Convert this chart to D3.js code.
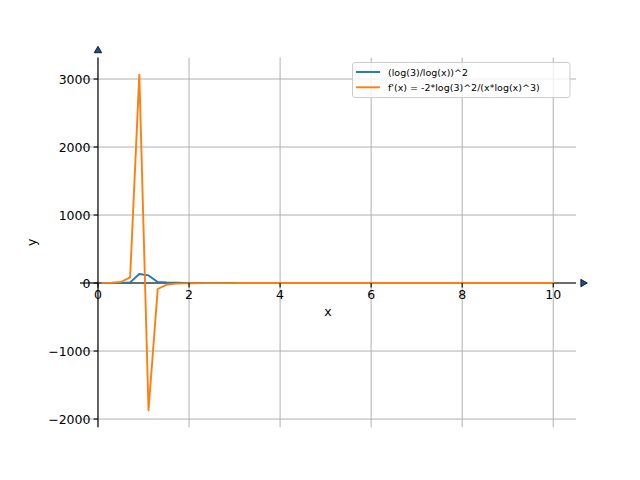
<!DOCTYPE html>
<html>
<head>
<meta charset="utf-8">
<script src="https://cdn.jsdelivr.net/npm/d3@7"></script>
<style>
  html, body { margin: 0; padding: 0; background: #fff; }
  svg { display: block; }
  text { font-family: "DejaVu Sans", sans-serif; fill: #000; }
</style>
</head>
<body>
<svg id="chart" width="640" height="480"></svg>
<script>
// ---- data ----
const xValues = [0.100,0.302,0.504,0.706,0.908,1.110,1.312,1.514,1.716,1.918,
  2.120,2.322,2.525,2.727,2.929,3.131,3.333,3.535,3.737,3.939,
  4.141,4.343,4.545,4.747,4.949,5.151,5.353,5.555,5.757,5.959,
  6.161,6.363,6.565,6.767,6.969,7.171,7.373,7.575,7.778,7.980,
  8.182,8.384,8.586,8.788,8.990,9.192,9.394,9.596,9.798,10.000];
const fValues = [0.23,0.84,2.6,10,132,112,16.4,7.0,4.1,2.85,
  2.14,1.70,1.41,1.20,1.05,0.93,0.83,0.76,0.69,0.64,
  0.60,0.56,0.53,0.50,0.47,0.45,0.43,0.41,0.39,0.38,
  0.37,0.35,0.34,0.33,0.32,0.31,0.30,0.29,0.29,0.28,
  0.27,0.27,0.26,0.26,0.25,0.25,0.24,0.24,0.23,0.23];
const dfValues = [2.0,4.7,15,84,3065,-1870,-88,-22,-8.9,-4.6,
  -2.7,-1.7,-1.2,-0.88,-0.66,-0.52,-0.42,-0.34,-0.28,-0.24,
  -0.20,-0.18,-0.15,-0.13,-0.12,-0.11,-0.10,-0.09,-0.08,-0.07,
  -0.07,-0.06,-0.06,-0.05,-0.05,-0.04,-0.04,-0.04,-0.04,-0.03,
  -0.03,-0.03,-0.03,-0.03,-0.03,-0.02,-0.02,-0.02,-0.02,-0.02];
const seriesNames = ["(log(3)/log(x))^2", "f'(x) = -2*log(3)^2/(x*log(x)^3)"];
const seriesColors = ["#1f77b4", "#ff7f0e"];
const xTicks = [0, 2, 4, 6, 8, 10];
const yTicks = [-2000, -1000, 0, 1000, 2000, 3000];
const xDomain = [-0.395, 10.5];
const yDomain = [-2120, 3315];

// ---- layout ----
const svg = d3.select("#chart");
const L = 80, R = 576, T = 57.6, B = 427.2;
const x = d3.scaleLinear().domain(xDomain).range([L, R]);
const y = d3.scaleLinear().domain(yDomain).range([B, T]);
const x0 = x(0), y0 = y(0);
const fs = 12.5;

// grid
const grid = svg.append("g");
grid.selectAll("line.gx").data(xTicks).enter().append("line")
  .attr("x1", d => x(d)).attr("x2", d => x(d)).attr("y1", T).attr("y2", B)
  .attr("stroke", "#b0b0b0").attr("stroke-width", 1);
grid.selectAll("line.gy").data(yTicks).enter().append("line")
  .attr("x1", L).attr("x2", R).attr("y1", d => y(d)).attr("y2", d => y(d))
  .attr("stroke", "#b0b0b0").attr("stroke-width", 1);

// spines through origin
svg.append("line").attr("x1", x0).attr("x2", x0).attr("y1", B).attr("y2", T)
  .attr("stroke", "#000").attr("stroke-width", 1.1);
svg.append("line").attr("x1", L).attr("x2", R).attr("y1", y0).attr("y2", y0)
  .attr("stroke", "#000").attr("stroke-width", 1.1);

// lines (drawn over the spines)
const series = [fValues, dfValues];
const line = d3.line().x((d, i) => x(xValues[i])).y(d => y(d));
series.forEach((vals, k) => {
  svg.append("path").datum(vals).attr("d", line)
    .attr("fill", "none").attr("stroke", seriesColors[k])
    .attr("stroke-width", 1.9).attr("stroke-linejoin", "round").attr("stroke-linecap", "square");
});

// x ticks
const xa = svg.append("g");
xa.selectAll("line").data(xTicks).enter().append("line")
  .attr("x1", d => x(d)).attr("x2", d => x(d)).attr("y1", y0).attr("y2", y0 + 4.4)
  .attr("stroke", "#000").attr("stroke-width", 1.1);
xa.selectAll("text").data(xTicks).enter().append("text")
  .attr("x", d => x(d)).attr("y", y0 + 16)
  .attr("text-anchor", "middle").attr("font-size", fs)
  .text(d => d3.format("d")(d).replace("-", "\u2212"));

// y ticks
const ya = svg.append("g");
ya.selectAll("line").data(yTicks).enter().append("line")
  .attr("x1", x0 - 4.4).attr("x2", x0).attr("y1", d => y(d)).attr("y2", d => y(d))
  .attr("stroke", "#000").attr("stroke-width", 1.1);
ya.selectAll("text").data(yTicks).enter().append("text")
  .attr("x", x0 - 7.5).attr("y", d => y(d) + 4.5)
  .attr("text-anchor", "end").attr("font-size", fs)
  .text(d => String(d).replace("-", "\u2212"));

// arrows
svg.append("path")
  .attr("d", d3.symbol().type(d3.symbolTriangle).size(24)())
  .attr("transform", `translate(${x0},${T - 7})`)
  .attr("fill", "#1f4f8f").attr("stroke", "#000").attr("stroke-width", 0.8);
svg.append("path")
  .attr("d", d3.symbol().type(d3.symbolTriangle).size(24)())
  .attr("transform", `translate(${R + 7},${y0}) rotate(90)`)
  .attr("fill", "#1f4f8f").attr("stroke", "#000").attr("stroke-width", 0.8);

// axis labels
svg.append("text").attr("x", (L + R) / 2).attr("y", 315.5)
  .attr("text-anchor", "middle").attr("font-size", fs).text("x");
svg.append("text").attr("transform", `translate(36,${(T + B) / 2}) rotate(-90)`)
  .attr("text-anchor", "middle").attr("font-size", fs).text("y");

// legend
const lg = svg.append("g");
lg.append("rect").attr("x", 352.5).attr("y", 62.5).attr("width", 217.5).attr("height", 35)
  .attr("rx", 2.5).attr("fill", "#fff").attr("fill-opacity", 0.8)
  .attr("stroke", "#cccccc").attr("stroke-width", 1);
seriesNames.forEach((name, k) => {
  const cy = 72 + k * 15.3;
  lg.append("line").attr("x1", 356).attr("x2", 380).attr("y1", cy).attr("y2", cy)
    .attr("stroke", seriesColors[k]).attr("stroke-width", 1.9);
  lg.append("text").attr("x", 388).attr("y", cy + 3.5)
    .attr("font-size", 9.5).text(name);
});
</script>
</body>
</html>
